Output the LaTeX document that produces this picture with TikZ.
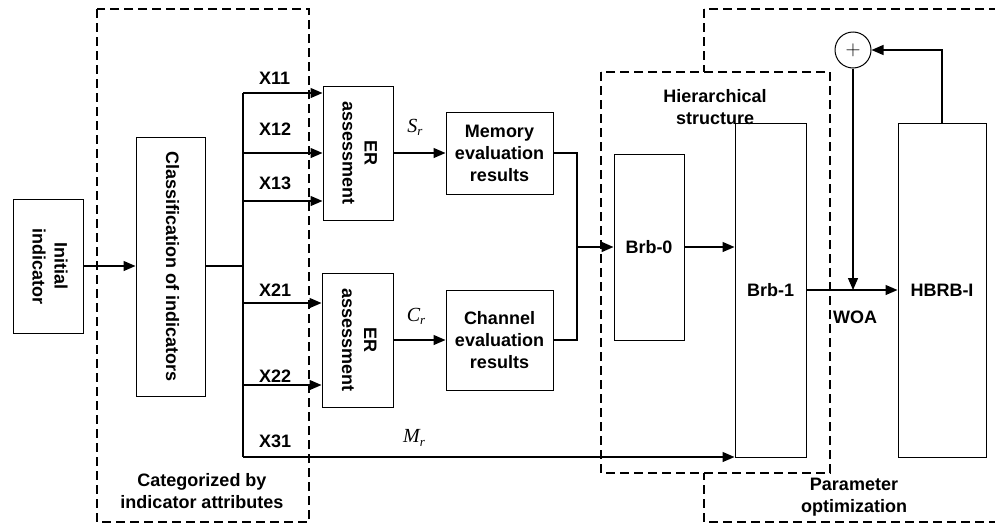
\documentclass[tikz,border=0pt]{standalone}
\usepackage{fontspec}
\setmainfont{Liberation Sans}
\newfontfamily\tms{Liberation Serif}
\usetikzlibrary{arrows.meta}
\newcommand{\vtxt}[1]{\rotatebox[origin=c]{-90}{\begin{tabular}{@{}c@{}}#1\end{tabular}}}
\newcommand{\mvar}[2]{{\tms\itshape #1\raisebox{-0.35ex}{\fontsize{13}{13}\selectfont #2}}}
\begin{document}
\begin{tikzpicture}[x=1pt,y=-1pt,
  font=\fontsize{18}{22}\selectfont\bfseries,
  box/.style={draw, line width=1pt, inner sep=0pt, align=center},
  conn/.style={line width=1.3pt},
  arr/.style={conn, -{Triangle[length=12pt,width=10pt]}},
  dbox/.style={line width=1.4pt, dash pattern=on 9pt off 5pt},
  lbl/.style={inner sep=0pt, align=center},
  mlbl/.style={inner sep=0pt, font=\fontsize{20}{20}\selectfont\mdseries}]
\clip (0,0) rectangle (995,525);
% dashed groups
\draw[dbox] (704,9) rectangle (1010,522);
\draw[dbox, fill=white] (601,72) rectangle (830,473);
\draw[dbox] (97,9) rectangle (309,522);
% boxes
\node[box, minimum width=70pt, minimum height=134pt] (init) at (48,266) {\vtxt{Initial\\indicator}};
\node[box, minimum width=69pt, minimum height=259pt] (class) at (170.5,266.5) {\vtxt{Classification of indicators}};
\node[box, minimum width=70pt, minimum height=134pt] (er1) at (358,153) {\vtxt{ER\\assessment}};
\node[box, minimum width=71pt, minimum height=134pt] (er2) at (357.5,340) {\vtxt{ER\\assessment}};
\node[box, minimum width=107pt, minimum height=82pt] (mem) at (499.5,153) {Memory\\evaluation\\results};
\node[box, minimum width=107pt, minimum height=100pt] (chan) at (499.5,340) {Channel\\evaluation\\results};
\node[box, minimum width=70pt, minimum height=186pt] (brb0) at (649,247) {Brb-0};
\node[box, minimum width=71pt, minimum height=334pt] (brb1) at (770.5,290) {Brb-1};
\node[box, minimum width=88pt, minimum height=334pt] (hbrb) at (942,290) {HBRB-I};
\node[draw, circle, line width=1pt, minimum size=36pt, inner sep=0pt, font=\fontsize{20}{20}\selectfont] (plus) at (853,50) {$+$};
% branch coordinates
\coordinate (sp) at (243,266);
\coordinate (b11) at (243,93);
\coordinate (b12) at (243,153);
\coordinate (b13) at (243,201);
\coordinate (b21) at (243,303);
\coordinate (b22) at (243,385);
\coordinate (b31) at (243,457);
\coordinate (mg) at (577,247);
% connectors
\draw[arr] (init.east) -- (class.west |- init.east);
\draw[line width=2pt] (class.east |- sp) -- (sp);
\draw[line width=1.7pt] (sp) -- (b11);
\draw[conn] (sp) -- (b31);
\draw[arr] (b11) -- (b11 -| er1.west);
\draw[arr] (b12) -- (b12 -| er1.west);
\draw[arr] (b13) -- (b13 -| er1.west);
\draw[arr] (b21) -- (b21 -| er2.west);
\draw[arr] (b22) -- (b22 -| er2.west);
\draw[arr] (b31) -- (b31 -| brb1.west);
\draw[arr] (er1.east) -- (mem.west);
\draw[arr] (er2.east) -- (chan.west);
\draw[conn] (mem.east) -| (mg);
\draw[conn] (chan.east) -| (mg);
\draw[arr, line width=1.7pt] (mg) -- (brb0.west);
\draw[arr] (brb0.east) -- (brb0.east -| brb1.west);
\draw[arr] (brb1.east) -- (hbrb.west);
\draw[arr] (plus.south) -- (plus.south |- brb1.east);
\draw[arr] (hbrb.north) |- (plus.east);
% labels
\node[lbl, anchor=west] (x11) at (259,78) {X11};
\node[lbl, anchor=west] (x12) at (259,129) {X12};
\node[lbl, anchor=west] (x13) at (259,183) {X13};
\node[lbl, anchor=west] (x21) at (259,290) {X21};
\node[lbl, anchor=west] (x22) at (259,376) {X22};
\node[lbl, anchor=west] (x31) at (259,441) {X31};
\node[mlbl] (sr) at (415,127) {\mvar{S}{r}};
\node[mlbl] (cr) at (416,316) {\mvar{C}{r}};
\node[mlbl] (mr) at (414,438) {\mvar{M}{r}};
\node[lbl] (woa) at (855,317) {WOA};
\node[lbl] (hier) at (715,107) {Hierarchical\\structure};
\node[lbl] (cat) at (202,491) {Categorized by\\indicator attributes};
\node[lbl] (par) at (854,497) {Parameter\\optimization};
\end{tikzpicture}
\end{document}
